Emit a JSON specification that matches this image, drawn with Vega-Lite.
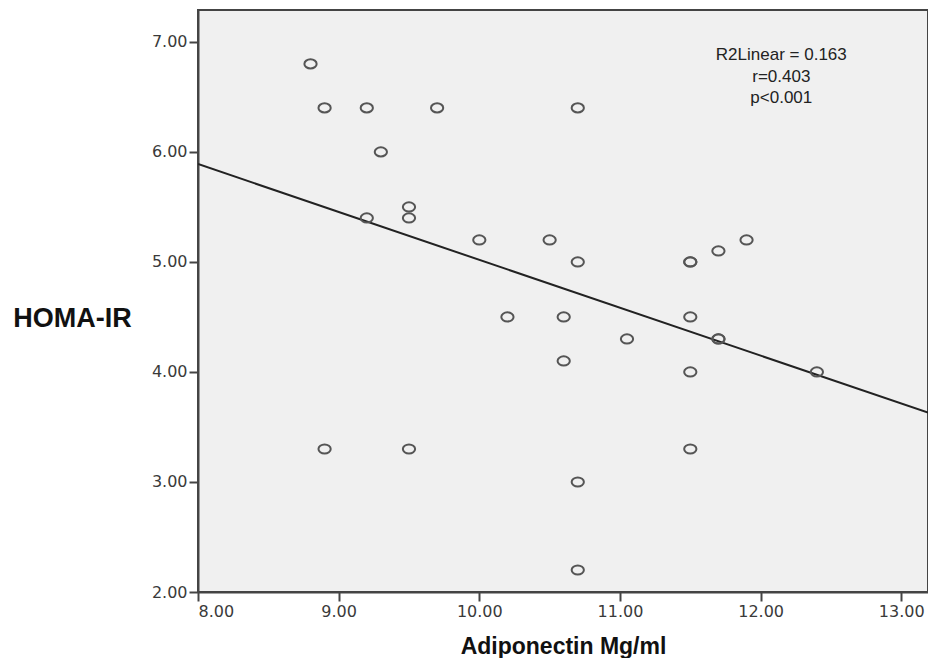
{
  "$schema": "https://vega.github.io/schema/vega-lite/v6.json",
  "width": 730,
  "height": 582,
  "autosize": {"type": "none"},
  "padding": {"left": 198, "top": 10, "right": 0, "bottom": 66},
  "background": "white",
  "config": {
    "view": {"fill": "#f0f0f0", "stroke": "#444", "strokeWidth": 2},
    "axis": {
      "domainColor": "#444", "domainWidth": 2,
      "tickColor": "#444", "tickWidth": 2, "tickSize": 9,
      "grid": false,
      "labelFont": "DejaVu Sans", "labelFontSize": 16, "labelColor": "#3a3a3a",
      "titleFont": "Liberation Sans", "titleFontWeight": "bold", "titleColor": "#111"
    }
  },
  "datasets": {
    "pts": [
      {"adiponectin": 8.8, "homa": 6.8},
      {"adiponectin": 8.9, "homa": 6.4},
      {"adiponectin": 9.2, "homa": 6.4},
      {"adiponectin": 9.7, "homa": 6.4},
      {"adiponectin": 10.7, "homa": 6.4},
      {"adiponectin": 9.3, "homa": 6.0},
      {"adiponectin": 9.5, "homa": 5.5},
      {"adiponectin": 9.5, "homa": 5.4},
      {"adiponectin": 9.2, "homa": 5.4},
      {"adiponectin": 10.0, "homa": 5.2},
      {"adiponectin": 10.5, "homa": 5.2},
      {"adiponectin": 10.7, "homa": 5.0},
      {"adiponectin": 11.5, "homa": 5.0},
      {"adiponectin": 11.5, "homa": 5.0},
      {"adiponectin": 11.7, "homa": 5.1},
      {"adiponectin": 11.9, "homa": 5.2},
      {"adiponectin": 10.2, "homa": 4.5},
      {"adiponectin": 10.6, "homa": 4.5},
      {"adiponectin": 11.5, "homa": 4.5},
      {"adiponectin": 11.05, "homa": 4.3},
      {"adiponectin": 11.7, "homa": 4.3},
      {"adiponectin": 11.7, "homa": 4.3},
      {"adiponectin": 10.6, "homa": 4.1},
      {"adiponectin": 11.5, "homa": 4.0},
      {"adiponectin": 12.4, "homa": 4.0},
      {"adiponectin": 8.9, "homa": 3.3},
      {"adiponectin": 9.5, "homa": 3.3},
      {"adiponectin": 11.5, "homa": 3.3},
      {"adiponectin": 10.7, "homa": 3.0},
      {"adiponectin": 10.7, "homa": 2.2}
    ],
    "fit": [
      {"adiponectin": 8.0, "homa": 5.89},
      {"adiponectin": 13.19, "homa": 3.63}
    ],
    "notes": [
      {"adiponectin": 12.147, "homa": 6.88, "label": "R2Linear = 0.163"},
      {"adiponectin": 12.147, "homa": 6.68, "label": "r=0.403"},
      {"adiponectin": 12.147, "homa": 6.49, "label": "p<0.001"}
    ]
  },
  "encoding": {
    "x": {
      "field": "adiponectin", "type": "quantitative",
      "scale": {"domain": [8, 13.19], "nice": false, "zero": false},
      "axis": {"values": [8, 9, 10, 11, 12, 13], "format": ".2f", "title": "Adiponectin Mg/ml", "titleFontSize": 23, "titlePadding": 16, "labelPadding": 2}
    },
    "y": {
      "field": "homa", "type": "quantitative",
      "scale": {"domain": [2, 7.29], "nice": false, "zero": false},
      "axis": {"values": [2, 3, 4, 5, 6, 7], "format": ".2f", "title": "HOMA-IR", "titleFontSize": 27, "titleAngle": 0, "titleAlign": "center", "titleBaseline": "middle", "titleX": -126, "titleY": 308, "labelPadding": 2}
    }
  },
  "layer": [
    {
      "data": {"name": "fit"},
      "mark": {"type": "line", "color": "#222", "strokeWidth": 2, "clip": true}
    },
    {
      "data": {"name": "pts"},
      "mark": {"type": "point", "filled": false, "shape": "M-1,0A1,0.75,0,1,0,1,0A1,0.75,0,1,0,-1,0Z", "size": 150, "stroke": "#555", "strokeWidth": 2, "opacity": 1}
    },
    {
      "data": {"name": "notes"},
      "mark": {"type": "text", "font": "Liberation Sans", "fontSize": 17, "color": "#222", "align": "center", "baseline": "middle"},
      "encoding": {"text": {"field": "label"}}
    }
  ]
}
